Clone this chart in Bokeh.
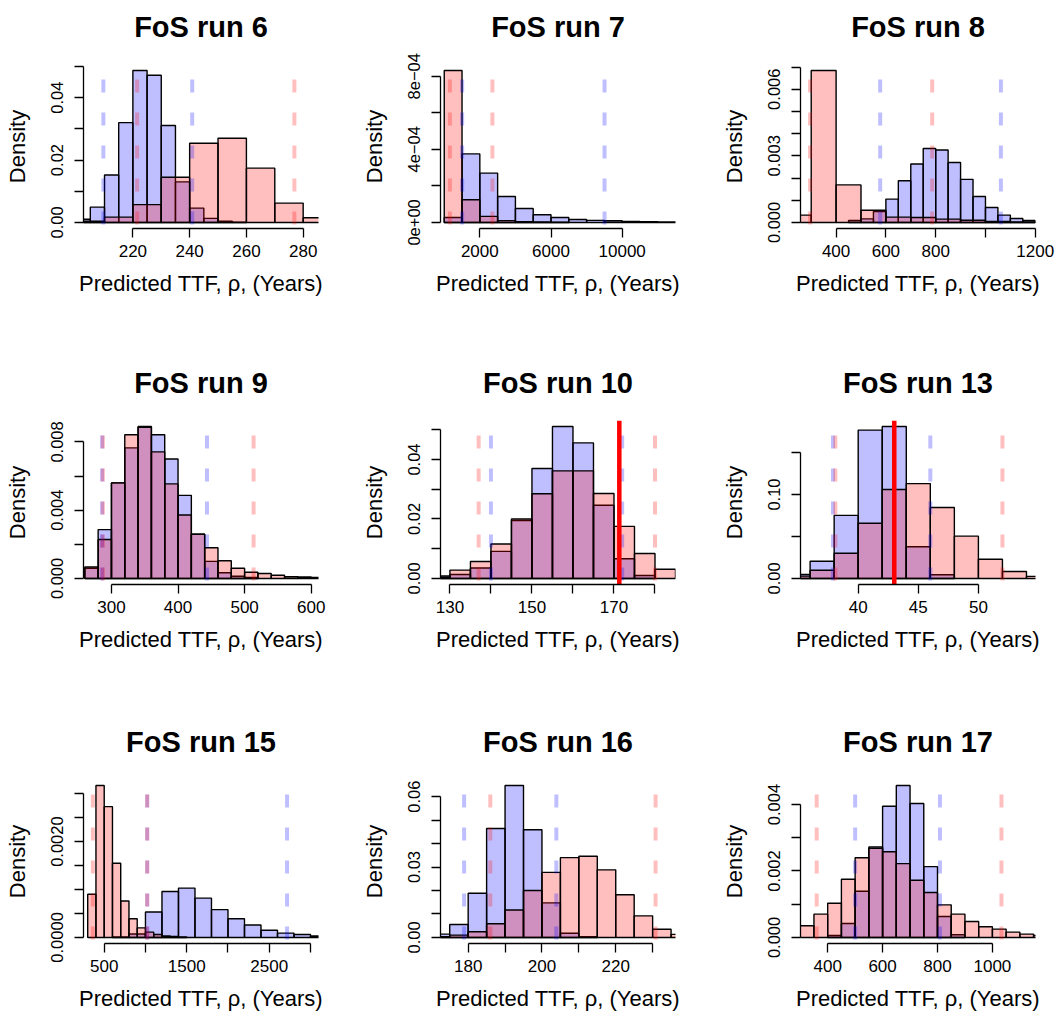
from bokeh.plotting import figure
from bokeh.models import FixedTicker, Range1d, CustomJSTickFormatter, LinearAxis, Title
from bokeh.layouts import column, row
from bokeh.embed import file_html
from bokeh.resources import INLINE

FONT = "Liberation Sans"
XLABEL = "Predicted TTF, \u03c1, (Years)"
YLABEL = "Density"

# ---------------- FoS run 6 ----------------
run6_red_breaks = [200, 210, 220, 230, 240, 250, 260, 270, 280, 290]
run6_red_density = [0.0004, 0.0017, 0.0057, 0.0145, 0.0254, 0.0270, 0.0174, 0.0062, 0.0015]
run6_blue_breaks = [200, 205, 210, 215, 220, 225, 230, 235, 240, 245, 250, 255, 260]
run6_blue_density = [0.0010, 0.0049, 0.0152, 0.0320, 0.0487, 0.0472, 0.0311, 0.0130, 0.0046, 0.0013, 0.0004, 0.0001]
run6_red_bounds = [221.5, 276.9]
run6_blue_bounds = [209.6, 240.9]
run6_xlim = [202.6, 285.4]
run6_xticks = [220, 240, 260, 280]
run6_xlabels = ["220", "240", "260", "280"]
run6_yticks = [0.0, 0.01, 0.02, 0.03, 0.04, 0.05]
run6_ylabels = ["0.00", "", "0.02", "", "0.04", ""]

# ---------------- FoS run 7 ----------------
run7_red_breaks = [0, 1000, 2000, 3000, 4000, 5000, 6000, 7000]
run7_red_density = [8.31e-4, 1.24e-4, 3.3e-5, 1.0e-5, 4e-6, 2e-6, 1e-6]
run7_blue_breaks = [0, 1000, 2000, 3000, 4000, 5000, 6000, 7000, 8000, 9000, 10000, 11000, 12000, 13000]
run7_blue_density = [2.7e-5, 3.75e-4, 2.7e-4, 1.42e-4, 7.6e-5, 4.2e-5, 2.7e-5, 1.6e-5, 1.1e-5, 9e-6, 5e-6, 4e-6, 3e-6]
run7_red_bounds = [317, 2707]
run7_blue_bounds = [1007, 9008]
run7_xlim = [-210, 12996]
run7_xticks = [2000, 6000, 10000]
run7_xlabels = ["2000", "6000", "10000"]
run7_yticks = [0.0, 2e-4, 4e-4, 6e-4, 8e-4]
run7_ylabels = ["0e+00", "", "4e\u221204", "", "8e\u221204"]

# ---------------- FoS run 8 ----------------
run8_red_breaks = [200, 300, 400, 500, 600, 700, 800, 900, 1000, 1100, 1200]
run8_red_density = [0.00033, 0.00684, 0.00169, 0.00055, 0.00024, 0.00022, 0.00015, 0.00010, 0.00004, 0.00002]
run8_blue_breaks = [450, 500, 550, 600, 650, 700, 750, 800, 850, 900, 950, 1000, 1050, 1100, 1150, 1200]
run8_blue_density = [0.00009, 0.00016, 0.00049, 0.00105, 0.00188, 0.00263, 0.00333, 0.00326, 0.00270,
                     0.00194, 0.00117, 0.00067, 0.00033, 0.00018, 0.00009]
run8_red_bounds = [295.5, 786]
run8_blue_bounds = [577, 1062]
run8_xlim = [257, 1201]
run8_xticks = [400, 600, 800, 1000, 1200]
run8_xlabels = ["400", "600", "800", "", "1200"]
run8_yticks = [0.0, 0.001, 0.002, 0.003, 0.004, 0.005, 0.006, 0.007]
run8_ylabels = ["0.000", "", "", "0.003", "", "", "0.006", ""]

# ---------------- FoS run 9 ----------------
run9_red_breaks = [260, 280, 300, 320, 340, 360, 380, 400, 420, 440, 460, 480, 500, 520, 540, 560, 580, 600, 620]
run9_red_density = [0.00067, 0.00228, 0.00560, 0.00842, 0.00886, 0.00742, 0.00554, 0.00372, 0.00259,
                    0.00180, 0.00104, 0.00060, 0.00036, 0.00029, 0.00019, 0.00010, 0.00008, 0.00005]
run9_blue_breaks = [260, 280, 300, 320, 340, 360, 380, 400, 420, 440, 460, 480, 500, 520]
run9_blue_density = [0.00060, 0.00286, 0.00560, 0.00765, 0.00890, 0.00842, 0.00700, 0.00487, 0.00259,
                     0.00100, 0.00033, 0.00013, 0.00005]
run9_red_bounds = [287, 513.5]
run9_blue_bounds = [286, 443.5]
run9_xlim = [258, 611]
run9_xticks = [300, 400, 500, 600]
run9_xlabels = ["300", "400", "500", "600"]
run9_yticks = [0.0, 0.002, 0.004, 0.006, 0.008]
run9_ylabels = ["0.000", "", "0.004", "", "0.008"]

# ---------------- FoS run 10 ----------------
run10_red_breaks = [125, 130, 135, 140, 145, 150, 155, 160, 165, 170, 175, 180, 185]
run10_red_density = [0.0004, 0.0028, 0.0057, 0.0116, 0.0200, 0.0285, 0.0362, 0.0362, 0.0286, 0.0175, 0.0084, 0.0031]
run10_blue_breaks = [125, 130, 135, 140, 145, 150, 155, 160, 165, 170, 175, 180]
run10_blue_density = [0.0008, 0.0013, 0.0035, 0.0091, 0.0195, 0.0370, 0.0511, 0.0456, 0.0246, 0.0066, 0.0010]
run10_red_bounds = [137, 180]
run10_blue_bounds = [140, 172]
run10_observed = [171.3]
run10_xlim = [127.7, 185]
run10_xticks = [130, 140, 150, 160, 170, 180]
run10_xlabels = ["130", "", "150", "", "170", ""]
run10_yticks = [0.0, 0.01, 0.02, 0.03, 0.04, 0.05]
run10_ylabels = ["0.00", "", "0.02", "", "0.04", ""]

# ---------------- FoS run 13 ----------------
run13_red_breaks = [34, 36, 38, 40, 42, 44, 46, 48, 50, 52, 54, 56]
run13_red_density = [0.0028, 0.0098, 0.0300, 0.0657, 0.1060, 0.1130, 0.0846, 0.0504, 0.0228, 0.0083, 0.0024]
run13_blue_breaks = [34, 36, 38, 40, 42, 44, 46, 48]
run13_blue_density = [0.0047, 0.0205, 0.0752, 0.1768, 0.1810, 0.0378, 0.0043]
run13_red_bounds = [38.1, 52]
run13_blue_bounds = [37.9, 46]
run13_observed = [43.0]
run13_xlim = [35.2, 54.75]
run13_xticks = [40, 45, 50]
run13_xlabels = ["40", "45", "50"]
run13_yticks = [0.0, 0.05, 0.10, 0.15]
run13_ylabels = ["0.00", "", "0.10", ""]

# ---------------- FoS run 15 ----------------
run15_red_breaks = [300, 400, 500, 600, 700, 800, 900, 1000, 1100, 1200, 1300, 1400, 1500]
run15_red_density = [0.00090, 0.00317, 0.00273, 0.00155, 0.00076, 0.00039, 0.00020, 0.00011,
                     0.00006, 0.00003, 0.00002, 0.00001]
run15_blue_breaks = [600, 800, 1000, 1200, 1400, 1600, 1800, 2000, 2200, 2400, 2600, 2800, 3000, 3200]
run15_blue_density = [0.00001, 0.00007, 0.00053, 0.00096, 0.00103, 0.00082, 0.00058, 0.00039,
                      0.00026, 0.00015, 0.00009, 0.00006, 0.00003]
run15_red_bounds = [362, 1021]
run15_blue_bounds = [1021, 2716]
run15_xlim = [249, 3097]
run15_xticks = [500, 1000, 1500, 2000, 2500, 3000]
run15_xlabels = ["500", "", "1500", "", "2500", ""]
run15_yticks = [0.0, 0.0005, 0.0010, 0.0015, 0.0020, 0.0025, 0.0030]
run15_ylabels = ["0.0000", "", "", "", "0.0020", "", ""]

# ---------------- FoS run 16 ----------------
run16_red_breaks = [170, 175, 180, 185, 190, 195, 200, 205, 210, 215, 220, 225, 230, 235, 240]
run16_red_density = [0.0003, 0.0010, 0.0024, 0.0058, 0.0117, 0.0200, 0.0277, 0.0340, 0.0346,
                     0.0288, 0.0182, 0.0092, 0.0035, 0.0013]
run16_blue_breaks = [170, 175, 180, 185, 190, 195, 200, 205, 210, 215]
run16_blue_density = [0.0014, 0.0055, 0.0188, 0.0464, 0.0647, 0.0459, 0.0147, 0.0018, 0.0003]
run16_red_bounds = [186, 230.8]
run16_blue_bounds = [178.9, 203.9]
run16_xlim = [172.5, 236.2]
run16_xticks = [180, 190, 200, 210, 220, 230]
run16_xlabels = ["180", "", "200", "", "220", ""]
run16_yticks = [0.0, 0.01, 0.02, 0.03, 0.04, 0.05, 0.06]
run16_ylabels = ["0.00", "", "", "0.03", "", "", "0.06"]

# ---------------- FoS run 17 ----------------
run17_red_breaks = [300, 350, 400, 450, 500, 550, 600, 650, 700, 750, 800, 850, 900, 950, 1000,
                    1050, 1100, 1150, 1200]
run17_red_density = [0.00035, 0.00070, 0.00103, 0.00175, 0.00240, 0.00268, 0.00258, 0.00222, 0.00172,
                     0.00135, 0.00098, 0.00070, 0.00048, 0.00032, 0.00025, 0.00016, 0.00010, 0.00006]
run17_blue_breaks = [400, 450, 500, 550, 600, 650, 700, 750, 800, 850, 900]
run17_blue_density = [0.00006, 0.00042, 0.00139, 0.00272, 0.00395, 0.00457, 0.00403, 0.00213, 0.00063, 0.00008]
run17_red_bounds = [360, 1033]
run17_blue_bounds = [500, 809]
run17_xlim = [301, 1157]
run17_xticks = [400, 600, 800, 1000]
run17_xlabels = ["400", "600", "800", "1000"]
run17_yticks = [0.0, 0.001, 0.002, 0.003, 0.004]
run17_ylabels = ["0.000", "", "0.002", "", "0.004"]

PANELS = [
    ("FoS run 6", run6_red_breaks, run6_red_density, run6_blue_breaks, run6_blue_density,
     run6_red_bounds, run6_blue_bounds, [], run6_xlim, run6_xticks, run6_xlabels, run6_yticks, run6_ylabels),
    ("FoS run 7", run7_red_breaks, run7_red_density, run7_blue_breaks, run7_blue_density,
     run7_red_bounds, run7_blue_bounds, [], run7_xlim, run7_xticks, run7_xlabels, run7_yticks, run7_ylabels),
    ("FoS run 8", run8_red_breaks, run8_red_density, run8_blue_breaks, run8_blue_density,
     run8_red_bounds, run8_blue_bounds, [], run8_xlim, run8_xticks, run8_xlabels, run8_yticks, run8_ylabels),
    ("FoS run 9", run9_red_breaks, run9_red_density, run9_blue_breaks, run9_blue_density,
     run9_red_bounds, run9_blue_bounds, [], run9_xlim, run9_xticks, run9_xlabels, run9_yticks, run9_ylabels),
    ("FoS run 10", run10_red_breaks, run10_red_density, run10_blue_breaks, run10_blue_density,
     run10_red_bounds, run10_blue_bounds, run10_observed, run10_xlim, run10_xticks, run10_xlabels,
     run10_yticks, run10_ylabels),
    ("FoS run 13", run13_red_breaks, run13_red_density, run13_blue_breaks, run13_blue_density,
     run13_red_bounds, run13_blue_bounds, run13_observed, run13_xlim, run13_xticks, run13_xlabels,
     run13_yticks, run13_ylabels),
    ("FoS run 15", run15_red_breaks, run15_red_density, run15_blue_breaks, run15_blue_density,
     run15_red_bounds, run15_blue_bounds, [], run15_xlim, run15_xticks, run15_xlabels, run15_yticks, run15_ylabels),
    ("FoS run 16", run16_red_breaks, run16_red_density, run16_blue_breaks, run16_blue_density,
     run16_red_bounds, run16_blue_bounds, [], run16_xlim, run16_xticks, run16_xlabels, run16_yticks, run16_ylabels),
    ("FoS run 17", run17_red_breaks, run17_red_density, run17_blue_breaks, run17_blue_density,
     run17_red_bounds, run17_blue_bounds, [], run17_xlim, run17_xticks, run17_xlabels, run17_yticks, run17_ylabels),
]

COL_W = [355, 357, 348]
BORDER_L = [83, 85, 88]
BORDER_R = [37, 37, 25]
ROW_H = [327, 355, 333]
BORDER_T = [64, 93, 97]
BORDER_B = [99, 98, 72]
TITLE_GAP = 22  # empty band between the frame top and the title

RED = "#FF0000"
BLUE = "#0000FF"


def label_formatter(tick_values, tick_texts):
    return CustomJSTickFormatter(args=dict(tvals=tick_values, ttexts=tick_texts), code="""
        for (let i = 0; i < tvals.length; i++) {
            if (Math.abs(tvals[i] - tick) <= 1e-9 * Math.max(1, Math.abs(tick))) { return ttexts[i]; }
        }
        return "";
    """)


def style_axis(ax, tick_values, tick_texts, text, tick_size, tick_standoff, label_standoff):
    ax.ticker = FixedTicker(ticks=tick_values, minor_ticks=[])
    ax.formatter = label_formatter(tick_values, tick_texts)
    ax.bounds = (min(tick_values), max(tick_values))
    ax.axis_line_color = "black"
    ax.axis_line_width = 1.3
    ax.major_tick_line_color = "black"
    ax.major_tick_line_width = 1.3
    ax.major_tick_out = 9
    ax.major_tick_in = 0
    ax.minor_tick_out = 0
    ax.minor_tick_in = 0
    ax.major_label_text_font = FONT
    ax.major_label_text_font_size = tick_size
    ax.major_label_text_color = "black"
    ax.major_label_standoff = tick_standoff
    ax.axis_label = text
    ax.axis_label_text_font = FONT
    ax.axis_label_text_font_size = "22px"
    ax.axis_label_text_font_style = "normal"
    ax.axis_label_text_color = "black"
    ax.axis_label_standoff = label_standoff


def make_panel(spec, r, c):
    (title, rb, rd, bb, bd, rlines, blines, obs, xlim, xt, xl, yt, yl) = spec
    ymax = max(max(rd), max(bd))
    ylo, yhi = -0.04 * ymax, 1.04 * ymax
    p = figure(width=COL_W[c], height=ROW_H[r], output_backend="svg", toolbar_location=None, tools="",
               x_range=Range1d(xlim[0], xlim[1]), y_range=Range1d(ylo, yhi),
               min_border_left=BORDER_L[c], min_border_right=BORDER_R[c],
               min_border_top=BORDER_T[r], min_border_bottom=BORDER_B[r])
    p.grid.visible = False
    p.outline_line_color = None
    p.background_fill_color = "white"
    p.border_fill_color = "white"

    x_axis = p.below[0]
    y_axis = p.left[0]
    style_axis(x_axis, xt, xl, XLABEL, "17px", 7, 11)
    style_axis(y_axis, yt, yl, YLABEL, "16.5px", 11, 19)
    y_axis.major_label_orientation = "vertical"

    # invisible band (one white tick, no label) between the frame and the title
    xmid = (xlim[0] + xlim[1]) / 2
    gap = LinearAxis(ticker=FixedTicker(ticks=[xmid], minor_ticks=[]), axis_line_color=None,
                     major_tick_line_color="white", major_tick_out=TITLE_GAP, major_tick_in=0,
                     minor_tick_out=0, minor_tick_in=0, major_label_standoff=0,
                     major_label_text_font_size="1px", major_label_text_color="white",
                     formatter=CustomJSTickFormatter(code='return ""'))
    p.add_layout(gap, "above")
    p.add_layout(Title(text=title, align="center", text_font=FONT, text_font_size="29px",
                       text_font_style="bold", text_color="black", standoff=0), "above")

    p.quad(left=bb[:-1], right=bb[1:], bottom=0, top=bd, fill_color=BLUE, fill_alpha=0.25,
           line_color="black", line_width=1.4)
    p.quad(left=rb[:-1], right=rb[1:], bottom=0, top=rd, fill_color=RED, fill_alpha=0.25,
           line_color="black", line_width=1.4)
    for xs, col in ((blines, BLUE), (rlines, RED)):
        p.segment(x0=xs, y0=[ylo] * len(xs), x1=xs, y1=[yhi] * len(xs), line_color=col,
                  line_alpha=0.25, line_width=4, line_dash="13 20", line_dash_offset=29)
    if obs:
        p.segment(x0=obs, y0=[ylo] * len(obs), x1=obs, y1=[yhi] * len(obs), line_color=RED,
                  line_width=4.5)
    return p


rows = []
for r in range(3):
    figs = [make_panel(PANELS[r * 3 + c], r, c) for c in range(3)]
    rows.append(row(*figs))
layout = column(*rows)

open("out.html", "w").write(file_html(layout, INLINE))
